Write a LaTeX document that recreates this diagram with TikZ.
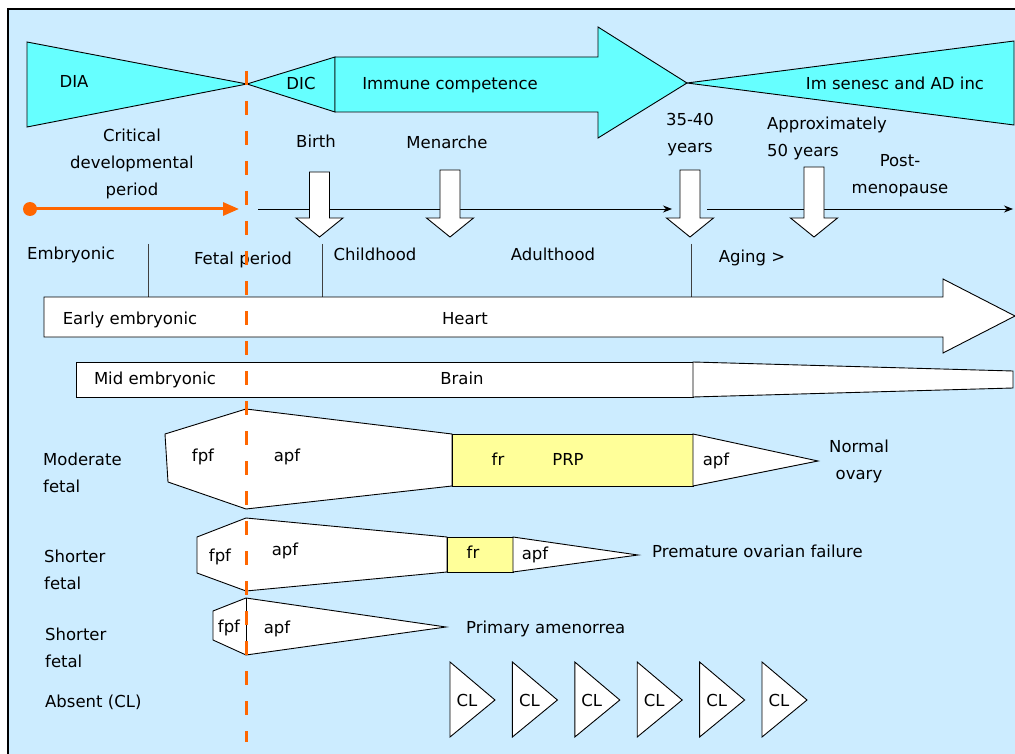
\documentclass[tikz,border=0pt]{standalone}
\usepackage{fontspec}
\setmainfont{DejaVu Sans}
\usetikzlibrary{arrows.meta}
\definecolor{bgblue}{HTML}{CCECFF}
\definecolor{cyanfill}{HTML}{66FFFF}
\definecolor{ovyellow}{HTML}{FFFF99}
\definecolor{orangeline}{HTML}{FF6600}
% hollow downward block arrow: #1 = centre x, #2 = top of shaft
\newcommand{\blockdown}[2]{%
  \draw[outl, fill=white] (#1-10,#2) -- (#1+10,#2) -- (#1+10,218) -- (#1+23.5,218)
    -- (#1,237) -- (#1-23.5,218) -- (#1-10,218) -- cycle;}
\begin{document}
\begin{tikzpicture}[x=1pt, y=-1pt,
  lbl/.style={inner sep=0pt, font=\fontsize{16.5}{27}\selectfont, text height=12pt, text depth=3.5pt, yshift=-2.5pt},
  lbltwo/.style={inner sep=0pt, font=\fontsize{16.5}{27}\selectfont, align=center, yshift=-2.5pt},
  lblleft/.style={inner sep=0pt, font=\fontsize{16.5}{27}\selectfont, align=left, anchor=west, yshift=-2.5pt},
  outl/.style={draw=black, line width=0.9pt, line join=miter},
  tick/.style={draw=black!75, line width=0.9pt},
  timeline/.style={draw=black, line width=0.9pt, -{Stealth[length=9pt,width=7pt]}},
]
\useasboundingbox (0,0) rectangle (1015,754);
% background panel and its frame
\fill[white] (0,0) rectangle (1015,754);
\fill[bgblue] (8,9) rectangle (1015,754);
\draw[line width=1.2pt] (8,754) -- (8,9) -- (1015,9);

% immune development band
\draw[outl, fill=cyanfill] (27,42) -- (247,84) -- (27,127) -- cycle;
\draw[outl, fill=cyanfill] (247,84) -- (335,57) -- (335,112) -- cycle;
\draw[outl, fill=cyanfill] (335,57) -- (598,57) -- (598,27) -- (687,83) -- (598,138)
  -- (598,112) -- (335,112) -- cycle;
\draw[outl, fill=cyanfill] (687,83) -- (1014,41) -- (1014,125) -- cycle;
\node[lbl] (dia) at (74,81) {DIA};
\node[lbl] (dic) at (301,83) {DIC};
\node[lbl] (immcomp) at (450,83) {Immune competence};
\node[lbl] (imsen) at (895,83) {Im senesc and AD inc};

% critical period marker
\node[lbltwo] (critical) at (132,161) {Critical\\developmental\\period};
\node[circle, fill=orangeline, inner sep=0pt, minimum size=14pt] (critdot) at (30,209) {};
\coordinate (critend) at (239,209);
\draw[orangeline, line width=3pt, -{Triangle[length=16pt,width=13pt]}] (critdot.center) -- (critend);

% life timeline
\coordinate (tlA) at (258,209);
\coordinate (tlB) at (672,209);
\coordinate (tlC) at (707,209);
\coordinate (tlD) at (1013,209);
\draw[timeline] (tlA) -- (tlB);
\draw[timeline] (tlC) -- (tlD);
\blockdown{319.5}{172}
\blockdown{450}{170}
\blockdown{690}{170}
\blockdown{814}{167}
\node[lbl] (birth) at (316,141) {Birth};
\node[lbl] (menarche) at (447,142) {Menarche};
\node[lbltwo] (yrs) at (690,132) {35-40\\years};
\node[lblleft] (approx) at (767,135.5) {Approximately\\50 years};
\node[lbltwo] (postmeno) at (900,173) {Post-\\menopause};

% life stages
\coordinate (tk1a) at (148,244); \coordinate (tk1b) at (148,297);
\coordinate (tk2a) at (322,244); \coordinate (tk2b) at (322,297);
\coordinate (tk3a) at (691,244); \coordinate (tk3b) at (691,297);
\draw[tick] (tk1a) -- (tk1b);
\draw[tick] (tk2a) -- (tk2b);
\draw[tick] (tk3a) -- (tk3b);
\node[lbl] (embryonic) at (71,253) {Embryonic};
\node[lbl] (fetal) at (243,258) {Fetal period};
\node[lbl] (childhood) at (375,254) {Childhood};
\node[lbl] (adulthood) at (553,254) {Adulthood};
\node[lbl] (aging) at (752,256) {Aging >};

% heart and brain development
\draw[outl, fill=white] (44,297) -- (943,297) -- (943,279) -- (1015,316) -- (943,353)
  -- (943,337) -- (44,337) -- cycle;
\node[lbl] (early) at (130,318) {Early embryonic};
\node[lbl] (heart) at (465,318) {Heart};
\draw[outl, fill=white] (76,362) rectangle (693,397);
\draw[outl, fill=white] (693,362) -- (1013,371) -- (1013,388) -- (693,397) -- cycle;
\node[lbl] (mid) at (155,378) {Mid embryonic};
\node[lbl] (brain) at (462,378) {Brain};

% normal ovary
\draw[outl, fill=white] (165,434) -- (246,409) -- (452,434) -- (452,486) -- (246,509)
  -- (168,482) -- cycle;
\draw[outl, fill=ovyellow] (452,434) rectangle (693,486);
\draw[outl, fill=white] (693,434) -- (818,461) -- (693,486) -- cycle;
\node[lbl] (fpfA) at (203,455) {fpf};
\node[lbl] (apfA) at (287,455) {apf};
\node[lbl] (frA) at (498,459) {fr};
\node[lbl] (prp) at (568,459) {PRP};
\node[lbl] (apfA2) at (716,459) {apf};
\node[lbltwo] (normal) at (859,459) {Normal\\ovary};
\node[lblleft] (moderate) at (43,470.5) {Moderate\\fetal};

% premature ovarian failure
\draw[outl, fill=white] (197,537) -- (246,518) -- (447,537) -- (447,572) -- (246,591)
  -- (197,573) -- cycle;
\draw[outl, fill=ovyellow] (447,537) rectangle (513,572);
\draw[outl, fill=white] (513,537) -- (638,555) -- (513,572) -- cycle;
\node[lbl] (fpfB) at (220,555) {fpf};
\node[lbl] (apfB) at (285,549) {apf};
\node[lbl] (frB) at (473,552) {fr};
\node[lbl] (apfB2) at (535,553) {apf};
\node[lblleft] (pof) at (652,549) {Premature ovarian failure};
\node[lblleft] (shorterB) at (44,567.5) {Shorter\\fetal};

% primary amenorrea
\draw[outl, fill=white] (213,611) -- (246,598) -- (446,627) -- (246,655) -- (213,640) -- cycle;
\draw[outl] (246,598) -- (246,655);
\node[lbl] (fpfC) at (229,626) {fpf};
\node[lbl] (apfC) at (277,627) {apf};
\node[lblleft] (amen) at (466,626) {Primary amenorrea};
\node[lblleft] (shorterC) at (45,645.5) {Shorter\\fetal};

% absent ovary: corpora lutea
\node[lblleft] (absent) at (45,700) {Absent (CL)};
\foreach \i in {0,...,5} {
  \draw[outl, fill=white] (450+62.4*\i,662) -- (495+62.4*\i,700) -- (450+62.4*\i,737) -- cycle;
  \node[lbl] (cl\i) at (467+62.4*\i,700) {CL};
}

% fetal period boundary
\coordinate (dashtop) at (246,71);
\coordinate (dashbot) at (246,742);
\draw[orangeline, line width=3pt, dash pattern=on 14pt off 16pt] (dashtop) -- (dashbot);
\end{tikzpicture}
\end{document}
